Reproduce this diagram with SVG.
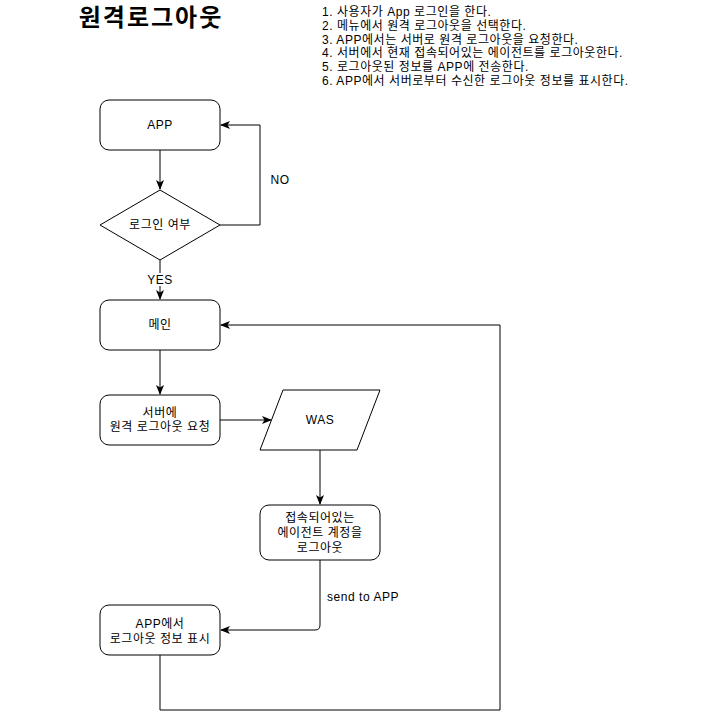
<svg xmlns="http://www.w3.org/2000/svg" width="721" height="719" viewBox="0 0 721 719">
<defs>
<marker id="arr" viewBox="0 0 10 10" refX="9" refY="5" markerWidth="10" markerHeight="10" markerUnits="userSpaceOnUse" orient="auto">
<path d="M0,1 L10,5 L0,9 L2.5,5 Z" fill="#000"/>
</marker>
</defs>
<style>
text{font-family:"Liberation Sans","Noto Sans CJK KR",Arial,sans-serif;font-size:12px;fill:#000;letter-spacing:0.55px}
.t{text-anchor:middle}
.node{fill:#fff;stroke:#000;stroke-width:1}
.edge{fill:none;stroke:#000;stroke-width:1}
.title{font-size:24px;font-weight:bold;text-anchor:middle;letter-spacing:2px}
</style>
<rect width="721" height="719" fill="#fff"/>
<text class="title" x="151" y="26">원격로그아웃</text>
<g id="steps">
<text x="322" y="16">1. 사용자가 App 로그인을 한다.</text>
<text x="322" y="29.8">2. 메뉴에서 원격 로그아웃을 선택한다.</text>
<text x="322" y="43.6">3. APP에서는 서버로 원격 로그아웃을 요청한다.</text>
<text x="322" y="57.4">4. 서버에서 현재 접속되어있는 에이전트를 로그아웃한다.</text>
<text x="322" y="71.2">5. 로그아웃된 정보를 APP에 전송한다.</text>
<text x="322" y="85">6. APP에서 서버로부터 수신한 로그아웃 정보를 표시한다.</text>
</g>
<g id="connectors">
<path class="edge" d="M160,150 V189" marker-end="url(#arr)"/>
<path class="edge" d="M220,225 H260 V125 H221" marker-end="url(#arr)"/>
<path class="edge" d="M160,260 V299" marker-end="url(#arr)"/>
<path class="edge" d="M160,350 V394" marker-end="url(#arr)"/>
<path class="edge" d="M220,420 H271" marker-end="url(#arr)"/>
<path class="edge" d="M320,450 V504" marker-end="url(#arr)"/>
<path class="edge" d="M320,560 V625 Q320,630 315,630 H221" marker-end="url(#arr)"/>
<path class="edge" d="M160,655 V710 H500 V325 H221" marker-end="url(#arr)"/>
<text x="280" y="184" class="t">NO</text>
<rect x="146" y="273" width="28" height="13" fill="#fff"/>
<text x="160" y="284" class="t">YES</text>
<text x="327" y="601">send to APP</text>
</g>
<g id="app">
<rect class="node" x="100" y="100" width="120" height="50" rx="9"/>
<text class="t" x="160" y="129">APP</text>
</g>
<g id="login-check">
<path class="node" d="M160,190 L220,225 L160,260 L100,225 Z"/>
<text class="t" x="160" y="229">로그인 여부</text>
</g>
<g id="main">
<rect class="node" x="100" y="300" width="120" height="50" rx="9"/>
<text class="t" x="160" y="329">메인</text>
</g>
<g id="request">
<rect class="node" x="100" y="395" width="120" height="50" rx="9"/>
<text class="t" x="160" y="417">서버에</text>
<text class="t" x="160" y="431">원격 로그아웃 요청</text>
</g>
<g id="was">
<path class="node" d="M283,390 H380 L357,450 H260 Z"/>
<text class="t" x="320" y="424">WAS</text>
</g>
<g id="logout-agent">
<rect class="node" x="260" y="505" width="120" height="55" rx="9"/>
<text class="t" x="320" y="522">접속되어있는</text>
<text class="t" x="320" y="537">에이전트 계정을</text>
<text class="t" x="320" y="552">로그아웃</text>
</g>
<g id="display">
<rect class="node" x="100" y="605" width="120" height="50" rx="9"/>
<text class="t" x="160" y="628">APP에서</text>
<text class="t" x="160" y="643">로그아웃 정보 표시</text>
</g>
</svg>
